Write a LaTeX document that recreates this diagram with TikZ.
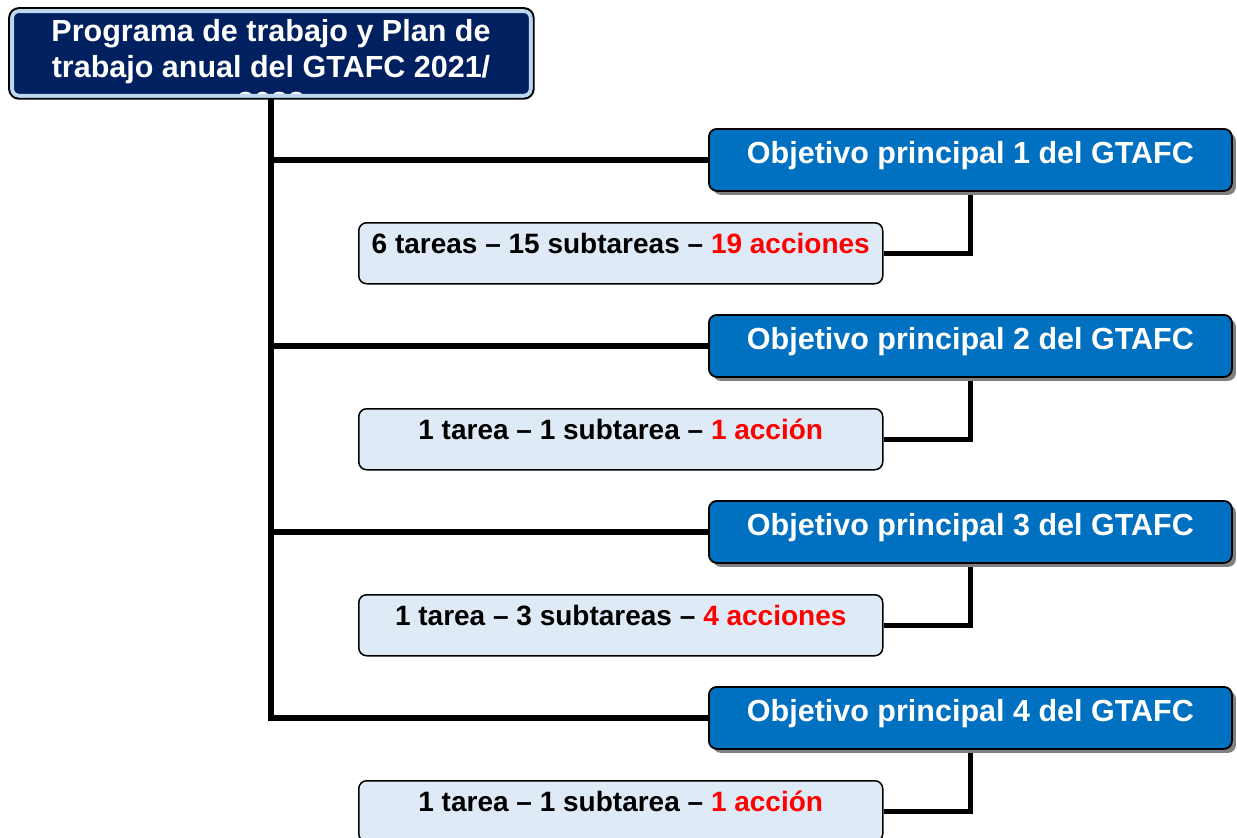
\documentclass[tikz,border=0pt]{standalone}
\usepackage{fontspec}
\setmainfont{Liberation Sans}
\usetikzlibrary{calc,shadows,backgrounds}
\definecolor{navy}{HTML}{002060}
\definecolor{lblue}{HTML}{BDD7EE}
\definecolor{objblue}{HTML}{0070C0}
\definecolor{taskfill}{HTML}{DEEBF7}
\definecolor{shadowgray}{HTML}{808080}
\definecolor{accred}{HTML}{FF0000}
\begin{document}
\begin{tikzpicture}[x=1pt,y=-1pt,
  conn/.style={line width=5.5pt, black, line join=miter},
  topbox/.style={draw=black, line width=1.8pt, fill=navy, rounded corners=10pt,
    minimum width=523pt, minimum height=89pt, inner sep=0pt, anchor=north west},
  objbox/.style={draw=black, line width=1.8pt, fill=objblue, rounded corners=8pt,
    minimum width=523pt, minimum height=62pt, inner sep=0pt, anchor=north west,
    drop shadow={shadow xshift=4pt, shadow yshift=-4pt, fill=shadowgray, opacity=1}},
  taskbox/.style={draw=black, line width=1.5pt, fill=taskfill, rounded corners=8pt,
    minimum width=524pt, minimum height=61pt, inner sep=0pt, anchor=north west},
  toptext/.style={text=white, font=\bfseries\fontsize{30.5}{36}\selectfont, align=center, inner sep=0pt, anchor=base},
  objtext/.style={text=white, font=\bfseries\fontsize{30.5}{36}\selectfont, inner sep=0pt, anchor=base},
  tasktext/.style={text=black, font=\bfseries\fontsize{28}{33}\selectfont, inner sep=0pt, anchor=base}
]
\useasboundingbox (0,0) rectangle (1237,838);

% top box
\node[topbox] (top) at (9,8) {};
\begin{scope}
  \clip[rounded corners=8pt] ($(top.north west)+(2,2)$) rectangle ($(top.south east)+(-2,-2)$);
  \node[toptext] (toptxt) at (271,113) {Programa de trabajo y Plan de\\trabajo anual del GTAFC 2021/\\2022};
\end{scope}
\draw[lblue, line width=4pt, rounded corners=7pt] ($(top.north west)+(3,3)$) rectangle ($(top.south east)+(-3,-3)$);
\draw[black, line width=1.8pt, rounded corners=10pt] (top.north west) rectangle (top.south east);

% objective boxes
\node[objbox] (o1) at (708,128) {};
\node[objbox] (o2) at (708,314) {};
\node[objbox] (o3) at (708,500) {};
\node[objbox] (o4) at (708,686) {};
\node[objtext] (o1t) at ($(o1.north)+(0,35)$) {Objetivo principal 1 del GTAFC};
\node[objtext] (o2t) at ($(o2.north)+(0,35)$) {Objetivo principal 2 del GTAFC};
\node[objtext] (o3t) at ($(o3.north)+(0,35)$) {Objetivo principal 3 del GTAFC};
\node[objtext] (o4t) at ($(o4.north)+(0,35)$) {Objetivo principal 4 del GTAFC};

% task boxes
\node[taskbox] (t1) at (358,222) {};
\node[taskbox] (t2) at (358,408) {};
\node[taskbox] (t3) at (358,594) {};
\node[taskbox] (t4) at (358,780) {};
\node[tasktext] (t1t) at ($(t1.north)+(0,31)$) {6 tareas – 15 subtareas – {\color{accred}19 acciones}};
\node[tasktext] (t2t) at ($(t2.north)+(0,31)$) {1 tarea – 1 subtarea – {\color{accred}1 acción}};
\node[tasktext] (t3t) at ($(t3.north)+(0,31)$) {1 tarea – 3 subtareas – {\color{accred}4 acciones}};
\node[tasktext] (t4t) at ($(t4.north)+(0,31)$) {1 tarea – 1 subtarea – {\color{accred}1 acción}};

% connectors
\begin{scope}[on background layer]
  \coordinate (trunk) at (271,95);
  \draw[conn] (trunk) |- (o4.west);
  \draw[conn] (trunk |- o1.west) -- (o1.west);
  \draw[conn] (trunk |- o2.west) -- (o2.west);
  \draw[conn] (trunk |- o3.west) -- (o3.west);
  \draw[conn] (o1.south) |- (t1.east);
  \draw[conn] (o2.south) |- (t2.east);
  \draw[conn] (o3.south) |- (t3.east);
  \draw[conn] (o4.south) |- (t4.east);
\end{scope}
\end{tikzpicture}
\end{document}
